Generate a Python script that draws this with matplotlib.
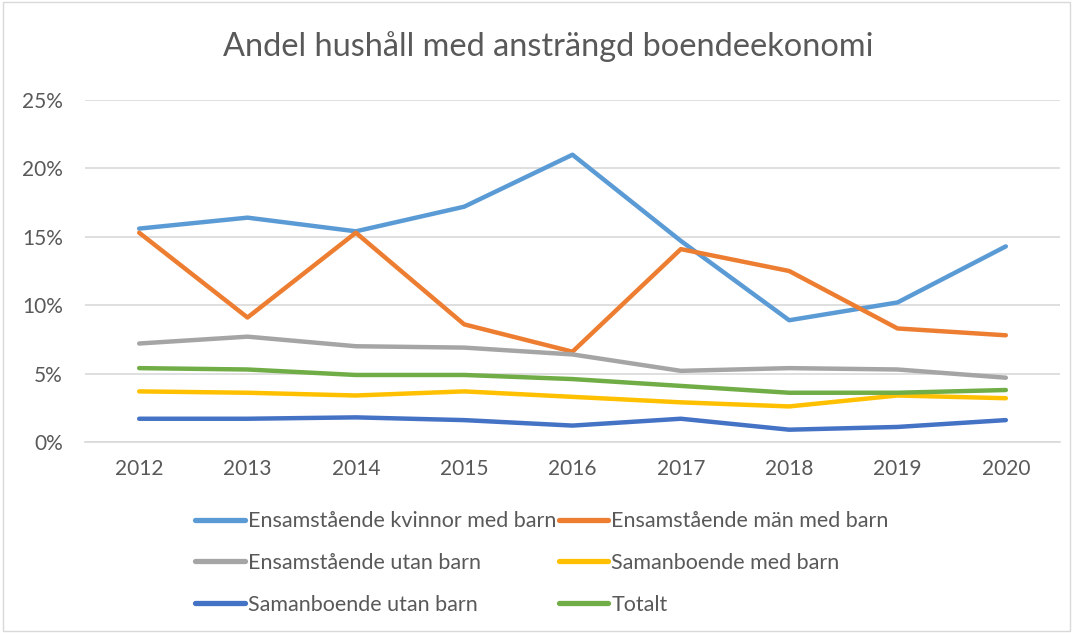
import matplotlib
matplotlib.use("Agg")
import matplotlib.pyplot as plt
from matplotlib.patches import Rectangle

plt.rcParams['font.family'] = ['Lato', 'DejaVu Sans']

years = ["2012", "2013", "2014", "2015", "2016", "2017", "2018", "2019", "2020"]

kvinnor_med_barn = [15.6, 16.4, 15.4, 17.2, 21.0, 14.7, 8.9, 10.2, 14.3]
man_med_barn = [15.3, 9.1, 15.3, 8.6, 6.6, 14.1, 12.5, 8.3, 7.8]
ensam_utan_barn = [7.2, 7.7, 7.0, 6.9, 6.4, 5.2, 5.4, 5.3, 4.7]
saman_med_barn = [3.7, 3.6, 3.4, 3.7, 3.3, 2.9, 2.6, 3.4, 3.2]
saman_utan_barn = [1.7, 1.7, 1.8, 1.6, 1.2, 1.7, 0.9, 1.1, 1.6]
totalt = [5.4, 5.3, 4.9, 4.9, 4.6, 4.1, 3.6, 3.6, 3.8]

series = [
    ("Ensamstående kvinnor med barn", kvinnor_med_barn, "#5B9BD5"),
    ("Ensamstående män med barn", man_med_barn, "#ED7D31"),
    ("Ensamstående utan barn", ensam_utan_barn, "#A5A5A5"),
    ("Samanboende med barn", saman_med_barn, "#FFC000"),
    ("Samanboende utan barn", saman_utan_barn, "#4472C4"),
    ("Totalt", totalt, "#70AD47"),
]

text_col = "#595959"

fig = plt.figure(figsize=(10.78, 6.33), dpi=100)
ax = fig.add_axes([85 / 1078, 1 - 442 / 633, 975 / 1078, 342 / 633])

x = list(range(len(years)))
lines = []
for name, vals, col in series:
    ln, = ax.plot(x, vals, color=col, lw=3.2, label=name,
                  solid_capstyle="round", solid_joinstyle="round")
    lines.append(ln)

ax.set_xlim(-0.5, len(years) - 0.5)
ax.set_ylim(0, 25)
ax.set_yticks([0, 5, 10, 15, 20, 25])
ax.set_yticklabels(["0%", "5%", "10%", "15%", "20%", "25%"])
ax.set_xticks(x)
ax.set_xticklabels(years)
ax.tick_params(axis="both", length=0, labelsize=15, colors=text_col)
ax.tick_params(axis="y", pad=16)
ax.tick_params(axis="x", pad=12)
ax.grid(axis="y", color="#D9D9D9", lw=1.2)
ax.set_axisbelow(True)
for s in ["top", "right", "left"]:
    ax.spines[s].set_visible(False)
ax.spines["bottom"].set_color("#D9D9D9")
ax.spines["bottom"].set_linewidth(1.2)

fig.text(548 / 1078, 1 - 47 / 633, "Andel hushåll med ansträngd boendeekonomi",
         ha="center", va="center", fontsize=23.4, color=text_col)

order = [0, 2, 4, 1, 3, 5]
leg = fig.legend([lines[i] for i in order], [series[i][0] for i in order],
                 ncol=2, loc="center", bbox_to_anchor=(542 / 1078, 1 - 563 / 633),
                 frameon=False, fontsize=15.5, labelcolor=text_col,
                 handlelength=2.3, handletextpad=0.15, columnspacing=0.1,
                 labelspacing=1.0)
for h in leg.legend_handles:
    h.set_linewidth(3.8)

fig.patches.append(Rectangle((0.003, 0.003), 0.990, 0.994, transform=fig.transFigure,
                             fill=False, edgecolor="#D9D9D9", lw=1))

fig.savefig("out.png", dpi=100)
